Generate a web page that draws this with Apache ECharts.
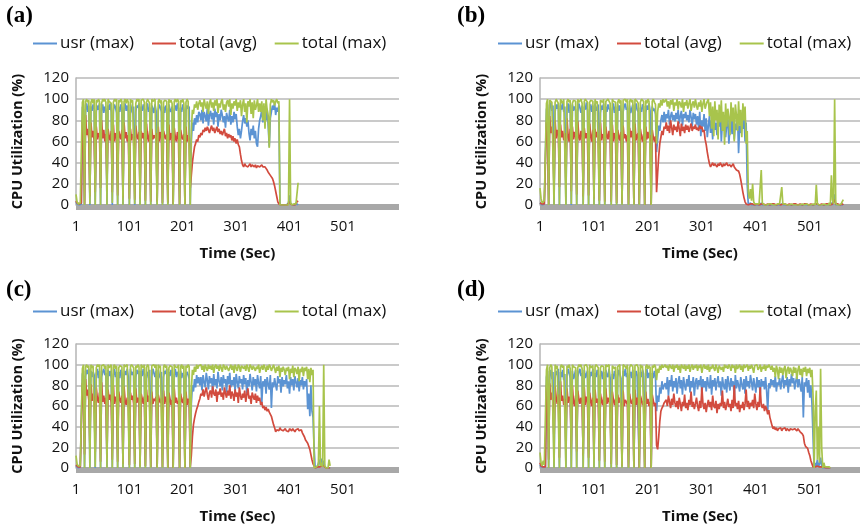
<!DOCTYPE html>
<html><head><meta charset="utf-8">
<script src="https://cdn.jsdelivr.net/npm/echarts@6/dist/echarts.min.js"></script>
<style>html,body{margin:0;padding:0;background:#fff}#c{width:861px;height:525px}</style>
</head><body><div id="c"></div>
<script>
const seriesNames = ['usr (max)', 'total (avg)', 'total (max)'];
const panelLabels = ['(a)', '(b)', '(c)', '(d)'];
const xTickLabels = [1, 101, 201, 301, 401, 501];
const yMin = 0, yMax = 120, yStep = 20;
const xAxisTitle = 'Time (Sec)';
const yAxisTitle = 'CPU Utilization (%)';
// samples every 2 seconds, first sample at t = 1 s
const SAMPLE_SEC = 2;

// ---------- panel (a) ----------
const aUsr = [
3,1,0,0,1,1,92,95,
0,90,96,88,94, 0,93,89,95,91, 0,88,94,90,96, 0,91,95,87,93,90, 0,94,90,96,88,
0,89,95,92,87, 0,93,88,95,91, 0,90,96,89,94,88, 0,95,91,87,93, 0,88,94,92,96,
0,93,89,95,90, 0,90,96,88,92, 0,94,91,87,95,89, 0,89,95,92,88, 0,93,87,94,90,
0,95,90,88,93, 0,90,94,89,96,91, 0,92,88,95,90, 0,89,94,91,93,
0,60,78,70,82,76,85,78,88,
86,80,90,77,88,84,79,92,75,85, 89,81,87,76,91,83,88,74,86,80, 90,85,78,84,73,87,82,79,90,76,
84,78,88,81,86,74,66,72,63,70, 79,85,77,82,74,80,68,61,72,66, 75,63,70,58,55,72,80,
84,90,78,93,86,80,91,75,55,82,88,94,90,96,85,92,88,94,
0,0,0,0,0,0,0,0,2,9,1,0,0,1,0,0,1,0];
const aAvg = [
4,2,1,1,1,2,80,72,
1,85,66,72,63, 8,78,64,70,61, 12,74,62,68,65, 16,80,63,71,60,67, 18,72,65,61,70,
12,76,60,68,64, 9,70,66,62,71, 7,78,63,69,60,66, 6,72,61,67,64, 5,75,66,62,69,
6,70,63,68,61, 4,77,65,60,70, 3,72,62,66,63,68, 3,74,60,69,65, 2,70,66,62,67,
2,76,61,68,63, 1,73,64,60,69,62, 1,71,65,62,67, 1,74,60,66,63,
16,28,40,48,55,58,62,60,66,
64,68,66,71,69,73,70,74,71,68, 72,75,70,73,68,71,74,69,72,67, 70,66,69,72,65,68,63,67,64,66,
61,65,60,63,58,62,57,55,48,42, 38,36,39,37,38,36,37,39,36,38, 37,36,38,35,37,38,36,
37,38,36,37,36,35,33,31,30,28,27,25,22,18,13,8,3,1,
0,0,0,0,0,0,0,0,1,3,1,0,0,1,0,1,3,4];
const aMax = [
10,3,1,1,2,3,97,100,
0,98,100,97,99, 1,97,100,96,100, 0,99,97,100,98, 0,96,100,98,100,97, 0,100,98,99,96,
2,97,100,98,100, 0,99,97,100,98, 0,98,100,96,100,97, 0,100,97,99,98, 1,96,100,98,100,
0,99,98,100,97, 0,97,100,99,96, 0,100,98,97,100,99, 0,98,100,96,99, 0,97,99,100,98,
0,100,97,99,96, 0,98,100,97,100,98, 0,99,97,100,96, 0,97,100,98,99,
0,70,90,86,95,92,98,90,96,
99,93,97,88,100,95,91,98,86,96, 100,92,97,89,99,94,100,87,96,92, 98,100,90,95,88,97,99,93,100,85,
96,91,98,94,100,89,97,92,99,84, 95,100,88,96,78,98,93,100,86,97, 82,99,90,94,100,88,96,
88,98,80,96,72,100,90,84,54,95,100,97,99,94,98,100,96,98,
0,0,0,1,0,0,0,0,0,100,2,0,0,1,0,1,2,21];

// ---------- panel (b) ----------
const bUsr = [
2,1,0,0,1,1,90,95,
0,92,97,89,94, 0,88,95,91,96, 0,94,90,97,88,93, 0,91,96,87,95, 0,95,89,93,90,
0,88,96,92,87,94, 0,93,90,97,89, 0,90,95,88,94, 0,96,89,92,95, 0,87,94,90,96,
0,93,88,95,91,89, 0,90,96,87,93, 0,95,89,94,88, 0,88,93,96,90,92, 0,94,87,91,95,
0,89,96,90,88, 0,92,88,95,93, 0,87,94,90,96,89, 0,93,89,91,86,
50,62,75,70,80,85,78,88,
78,86,82,90,76,84,88,80,85,79, 87,81,90,77,84,89,75,86,82,88, 80,85,78,90,83,74,87,81,86,76,
84,72,88,65,80,74,86,70,82,64, 75,84,68,80,62,86,71,78,66,83, 74,88,60,79,70,85,64,76,82,58,
73,80,67,84,62,77,71,86,49,75, 68,80,72,85,60,78,20,
0,1,2,0,1,0,0,0,0,0, 0,0,2,0,0,0,0,0,0,0, 0,0,0,0,0,0,0,0,0,0, 0,1,0,0,0,0,0,0,0,0,
0,0,0,0,0,0,0,0,0,0, 0,0,0,0,0,0,0,0,0,0, 0,0,0,1,0,0,0,0,0,0, 0,0,0,0,0,0,0,2,0,0,
10,0,0,0,0,0,0,0,1];
const bAvg = [
2,1,1,1,1,1,78,70,
1,84,68,74,65, 12,80,63,71,66, 17,76,64,70,61,68, 19,82,66,60,72, 13,74,62,69,64,
10,79,65,61,70,66, 8,73,63,68,62, 9,77,66,60,71, 6,72,64,69,63, 4,78,61,67,65,
3,74,66,62,70,64, 3,76,60,68,63, 2,71,65,61,69, 2,75,63,67,60,66, 1,73,64,70,62,
1,77,61,66,68, 1,72,65,60,67, 0,74,62,69,63,66, 0,71,64,60,65,
12,30,46,58,64,70,66,74,
72,78,70,75,68,80,73,66,76,71, 74,69,79,72,65,77,70,74,68,76, 71,75,69,73,77,70,74,72,76,71,
73,70,75,72,74,69,71,62,57,50, 44,39,36,38,40,37,39,38,36,39, 37,40,38,36,39,37,38,40,37,36,
38,36,37,39,36,35,33,34,32,29, 24,18,12,7,3,1,0,
0,1,1,0,1,1,0,1,1,0, 0,1,1,0,1,1,0,1,1,0, 0,1,1,0,1,1,0,1,1,0, 0,1,1,0,1,1,0,1,1,0,
0,1,1,0,1,1,0,1,1,0, 0,1,1,0,1,1,0,1,1,0, 0,1,1,0,1,1,0,1,1,0, 0,1,1,0,1,1,0,1,1,0,
5,1,0,1,1,0,1,1,0];
const bMax = [
16,6,2,1,4,3,96,100,
0,99,100,97,98, 0,97,100,99,96, 0,100,98,96,100,99, 0,98,100,97,99, 1,96,99,100,98,
0,100,97,98,100,96, 0,98,100,99,97, 0,97,99,100,98, 0,100,96,98,99, 0,99,100,97,100,
0,98,97,100,99,96, 0,100,98,99,97, 0,97,100,96,99, 0,99,98,100,97,100, 0,98,100,97,99,
0,100,99,98,96, 0,97,100,99,98, 0,99,96,100,98,97, 0,98,100,97,95,
58,88,96,92,99,94,100,97,
96,100,93,98,91,99,95,100,89,97, 94,100,90,98,96,92,100,88,97,94, 99,91,96,100,89,95,98,92,100,94,
90,97,93,99,88,96,100,91,95,98, 100,84,97,72,93,65,98,80,90,62, 95,78,99,70,88,57,96,74,91,83,
66,97,79,92,60,95,85,70,98,75, 90,64,96,80,93,58,70,
12,6,15,4,20,3,1,2,1,0, 1,0,33,2,1,0,1,0,0,1, 0,1,0,0,1,0,0,1,0,1, 2,17,1,0,1,0,0,1,0,0,
1,0,0,1,0,0,0,1,0,0, 1,0,0,0,1,0,0,1,0,0, 1,0,0,19,1,0,0,1,0,0, 1,0,0,1,0,2,0,28,5,1,
100,2,0,1,0,0,1,0,5];

// ---------- panel (c) ----------
const cUsr = [
2,1,0,0,1,1,91,94,
0,89,95,91,96, 0,94,88,93,90, 0,91,96,87,94, 0,88,93,96,90,92, 0,95,89,94,87,
0,90,96,88,93, 0,93,87,95,91, 0,89,94,90,96,88, 0,96,90,93,89, 0,88,95,91,94,
0,94,89,96,90, 0,91,93,87,95, 0,89,96,92,88,94, 0,95,90,87,93, 0,88,94,91,96,
0,93,89,95,90, 0,90,96,88,93,91, 0,94,87,92,89, 0,89,93,90,86,
0,62,80,74,86,78,90,82,88,
80,88,75,90,83,78,92,85,76,89, 82,87,74,91,80,86,77,93,84,79, 88,75,90,82,86,73,89,81,92,78,
85,80,88,74,91,83,77,89,82,86, 76,90,81,87,72,85,79,91,83,75, 88,80,86,74,90,82,77,89,63,84,
79,86,72,88,81,76,90,58,83,78, 87,80,75,89,82,86,73,88,79,85, 81,90,77,84,72,88,80,86,75,89,
83,78,87,74,85,80,88,76,84,79, 86,57,72,50,80,55,49,
20,0,0,1,0,8,1,9,2,7,1,0,0,1,0,0];
const cAvg = [
3,2,1,1,1,1,82,70,
13,86,70,76,66, 22,81,65,72,68, 15,78,67,63,73, 6,83,64,70,62,68, 10,76,66,71,63,
8,80,62,69,65, 6,74,67,63,70, 4,79,65,61,68,64, 3,73,66,70,62, 4,77,63,68,65,
2,72,67,62,69, 2,76,64,70,63, 1,74,62,67,65,69, 1,71,66,63,68, 1,75,62,69,64,
0,73,67,61,66, 0,77,63,68,62,65, 0,72,66,63,69, 0,74,61,67,64,
1,12,30,42,48,53,57,60,64,
67,72,70,76,69,74,78,71,66,73, 75,68,79,72,70,76,64,74,71,77, 69,73,66,78,72,68,75,70,80,67,
74,71,65,76,69,73,63,78,70,66, 72,68,75,64,71,77,67,70,62,73, 69,66,72,63,70,65,68,61,64,58,
60,56,59,55,57,54,53,50,46,42, 39,35,37,38,36,39,37,38,36,37, 38,36,37,35,38,37,36,38,37,35,
37,36,38,36,35,37,34,33,30,27, 26,24,21,18,13,8,4,
2,0,0,1,0,1,1,2,1,2,1,0,1,0,1,0];
const cMax = [
12,4,2,1,2,3,96,100,
0,98,100,97,99, 0,100,97,99,98, 1,97,100,98,100, 0,99,98,100,96,99, 0,100,97,98,100,
0,98,100,96,99, 0,97,99,100,98, 0,100,98,97,100,99, 0,98,100,99,97, 0,99,97,100,98,
0,100,99,97,100, 0,97,100,98,99, 0,99,98,100,97,100, 0,100,97,99,98, 0,98,100,97,99,
0,97,99,100,98, 0,100,98,99,97,100, 0,98,100,96,99, 0,99,97,100,98,
0,75,95,90,98,93,100,96,99,
98,100,95,99,93,100,97,94,100,96, 99,95,100,92,98,100,96,99,94,100, 97,93,100,98,95,99,100,94,97,100,
95,99,92,100,97,94,100,98,93,99, 100,96,99,94,100,97,93,100,98,95, 99,100,94,98,96,100,92,97,99,95,
100,97,93,99,95,100,98,94,97,100, 96,92,98,94,99,88,97,93,98,95, 90,97,94,98,86,96,92,99,88,97,
95,91,98,84,96,93,98,89,97,94, 98,86,96,83,97,90,95,
0,0,1,0,3,60,2,5,1,100,2,0,1,0,8,2];

// ---------- panel (d) ----------
const dUsr = [
3,1,0,1,0,1,88,94,
0,90,95,86,93, 0,87,94,90,96, 0,93,88,95,85,91, 0,89,96,92,87, 0,94,86,90,95,
0,88,93,96,89,92, 0,95,87,91,94, 0,86,93,89,96, 0,92,88,95,90, 0,89,94,86,93,
0,95,90,88,96,87, 0,91,86,94,90, 0,88,95,91,87, 0,94,89,96,88,92, 0,90,93,87,95,
0,87,94,90,89, 0,93,88,95,91, 0,89,96,87,92,90, 0,92,87,94,88,
55,70,64,78,72,84,76,80,
82,76,88,70,85,79,90,74,84,78, 87,72,83,89,77,85,71,88,80,75, 86,79,90,73,84,78,88,70,83,87,
76,85,80,89,72,86,78,84,74,88, 81,77,90,71,85,79,87,75,83,89, 78,84,70,88,80,76,86,73,89,82,
75,87,79,84,68,90,77,85,80,74, 88,81,76,86,72,89,79,84,77,90, 83,75,87,80,73,88,78,85,71,86,
79,84,76,88,74,55,82,77,86,80, 85,78,89,74,83,80,87,76,84,90, 77,85,80,88,73,86,79,91,82,87,
76,84,89,78,86,80,74,88,49,83, 79,87,73,85,68,80,62,30,
0,5,2,8,1,4,10,2,0,1,0,0,0,0,0,0];
const dAvg = [
5,2,1,1,1,1,80,72,
8,82,66,73,64, 25,79,68,62,71, 10,84,65,70,61,67, 22,77,63,69,66, 19,80,64,60,70,
16,75,67,62,68,63, 12,78,61,69,65, 10,73,66,60,68, 9,76,63,67,62, 7,72,65,61,69,
6,77,62,68,64,60, 4,74,66,61,67, 3,71,63,68,62, 2,75,60,66,64,61, 1,72,65,62,67,
1,76,61,68,63, 0,70,66,61,65, 0,74,62,67,60,64, 0,71,65,60,63,
22,18,30,45,55,58,60,63,
62,66,60,70,64,58,67,61,72,63, 59,65,57,68,62,55,64,60,71,58, 63,56,66,61,74,59,64,57,62,68,
60,55,65,58,78,62,57,63,54,61, 66,59,64,56,70,60,58,65,53,62, 57,63,60,75,58,64,56,61,67,59,
62,55,66,58,80,60,63,57,65,54, 61,58,64,56,62,76,59,65,57,63, 60,66,58,72,62,56,64,59,78,61,
58,62,55,60,57,52,56,49,45,41, 38,40,37,39,36,38,37,39,36,38, 37,39,36,38,37,36,38,39,37,36,
38,37,36,38,37,35,34,33, 31,24,21,21,19,15,12,7,4,1,
0,1,0,2,1,1,2,1,0,1,0,0,1,0,0,0];
const dMax = [
15,5,2,7,3,2,95,100,
0,97,100,98,99, 0,100,96,99,98, 0,98,100,97,99,100, 0,99,97,100,96, 0,100,98,99,97,
0,97,100,98,100,96, 0,99,98,100,97, 0,100,97,96,99, 0,98,100,99,97, 0,97,99,100,98,
0,100,98,97,100,99, 0,99,100,96,98, 0,98,97,100,99, 0,100,99,98,96,100, 0,97,100,99,98,
0,99,98,100,97, 0,100,97,99,98, 0,98,100,96,99,97, 0,99,97,100,98,
85,96,92,99,95,100,97,98,
100,97,99,94,100,98,96,100,93,99, 97,100,95,99,92,100,98,96,100,94, 99,96,100,93,98,100,95,99,97,100,
94,99,97,100,92,98,100,96,99,95, 100,93,98,96,100,99,94,100,97,92, 99,100,95,98,93,100,97,99,96,100,
98,94,100,97,99,92,100,96,98,100, 95,99,93,100,97,98,100,94,99,96, 100,97,92,99,98,100,95,97,100,93,
98,96,100,94,99,97,100,98,95,99, 93,97,88,99,95,86,98,92,97,90, 96,99,87,95,98,91,97,94,89,98,
92,97,86,95,99,90,96,88,97,93, 98,89,96,92,97,88,95,70,
0,55,75,8,40,5,96,20,0,5,1,0,1,0,1,0];

const panelData = [[aUsr, aAvg, aMax], [bUsr, bAvg, bMax], [cUsr, cAvg, cMax], [dUsr, dAvg, dMax]];

// ---------- layout (not data) ----------
const layout = [
  {grid: {left: 76, top: 78, width: 323, height: 127}, xMax: 606, label: {left: 6, top: 5}, legend: {left: 33, top: 35}},
  {grid: {left: 540, top: 78, width: 320, height: 127}, xMax: 594, label: {left: 457, top: 5}, legend: {left: 498, top: 35}},
  {grid: {left: 76, top: 344, width: 323, height: 128}, xMax: 606, label: {left: 6, top: 279}, legend: {left: 33, top: 303}},
  {grid: {left: 540, top: 344, width: 320, height: 128}, xMax: 594, label: {left: 457, top: 279}, legend: {left: 498, top: 303}}
];
const colors = ['#5b93d3', '#d24b3e', '#a8c44c'];
const FONT = 'Open Sans';

function toPairs(vals) { return vals.map((v, i) => [1 + SAMPLE_SEC * i, v]); }

const option = {
  animation: false,
  color: colors,
  title: layout.map((L, p) => ({
    text: panelLabels[p], left: L.label.left, top: L.label.top, padding: 0,
    textStyle: {fontFamily: 'Liberation Serif', fontWeight: 'bold', fontSize: 23, color: '#000'}
  })),
  legend: layout.map(L => ({
    left: L.legend.left, top: L.legend.top, padding: 0, itemGap: 18,
    icon: 'rect', itemWidth: 24, itemHeight: 2, data: seriesNames,
    selectedMode: false,
    textStyle: {fontFamily: FONT, fontSize: 17, color: '#111', padding: [0, 0, 0, -2]}
  })),
  grid: layout.map(L => Object.assign({containLabel: false}, L.grid)),
  xAxis: layout.map((L, p) => ({
    type: 'value', gridIndex: p, min: 1, max: L.xMax, offset: 2,
    name: xAxisTitle, nameLocation: 'middle', nameGap: 39,
    nameTextStyle: {fontFamily: FONT, fontWeight: 'bold', fontSize: 15, color: '#111'},
    axisLine: {show: true, onZero: false, lineStyle: {color: '#a8a8a8', width: 6, cap: 'butt'}},
    axisTick: {show: false},
    splitLine: {show: false},
    axisLabel: {customValues: xTickLabels, fontFamily: FONT, fontSize: 15, color: '#111', margin: 12}
  })),
  yAxis: layout.map((L, p) => ({
    type: 'value', gridIndex: p, min: yMin, max: yMax, interval: yStep,
    name: yAxisTitle, nameLocation: 'middle', nameGap: 51, nameRotate: 90,
    nameTextStyle: {fontFamily: FONT, fontWeight: 'bold', fontSize: 14.5, color: '#111'},
    axisLine: {show: true, lineStyle: {color: '#b5b5b5', width: 1.5}},
    axisTick: {show: false},
    splitLine: {show: true, lineStyle: {color: '#b9b9b9', width: 1.5}},
    axisLabel: {fontFamily: FONT, fontSize: 15, color: '#111', margin: 7}
  })),
  series: []
};
panelData.forEach((arrs, p) => {
  arrs.forEach((vals, s) => {
    option.series.push({
      type: 'line', name: seriesNames[s], xAxisIndex: p, yAxisIndex: p,
      data: toPairs(vals), showSymbol: false, symbol: 'none',
      lineStyle: {width: 1.7, color: colors[s]}, itemStyle: {color: colors[s]}, z: 2 + s
    });
  });
});
const chart = echarts.init(document.getElementById('c'), null, {renderer: 'canvas'});
chart.setOption(option);
</script></body></html>
